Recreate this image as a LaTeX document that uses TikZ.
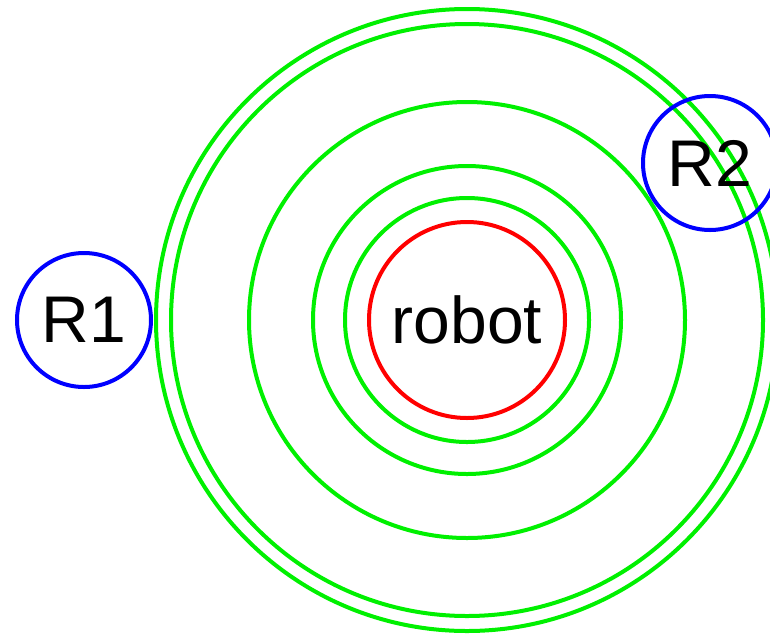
\documentclass[tikz,border=0pt]{standalone}
\usepackage{fontspec}
\setmainfont{Liberation Sans}
\definecolor{ringgreen}{RGB}{0,240,0}
\tikzset{
  blob/.style={circle, draw, line width=4pt, inner sep=0pt, text=black, font=\fontsize{66}{72}\selectfont},
  ring/.style={ringgreen, line width=4pt}
}
\begin{document}
\begin{tikzpicture}[x=1pt, y=-1pt]
    \useasboundingbox (0,0) rectangle (770,635);
    \clip (0,0) rectangle (770,635);

    % Robot in the middle
    \node[blob, draw=red, minimum size=196pt] (robot) at (467,320) {robot};

    % Rings around it
    \foreach \r in {122, 154, 218, 296, 311} {
        \draw[ring] (robot.center) circle (\r);
    }

    % The two other robots
    \node[blob, draw=blue, minimum size=134pt] (r1) at (84,320) {R1};
    \node[blob, draw=blue, minimum size=134pt] (r2) at (710,163) {R2};
\end{tikzpicture}
\end{document}
